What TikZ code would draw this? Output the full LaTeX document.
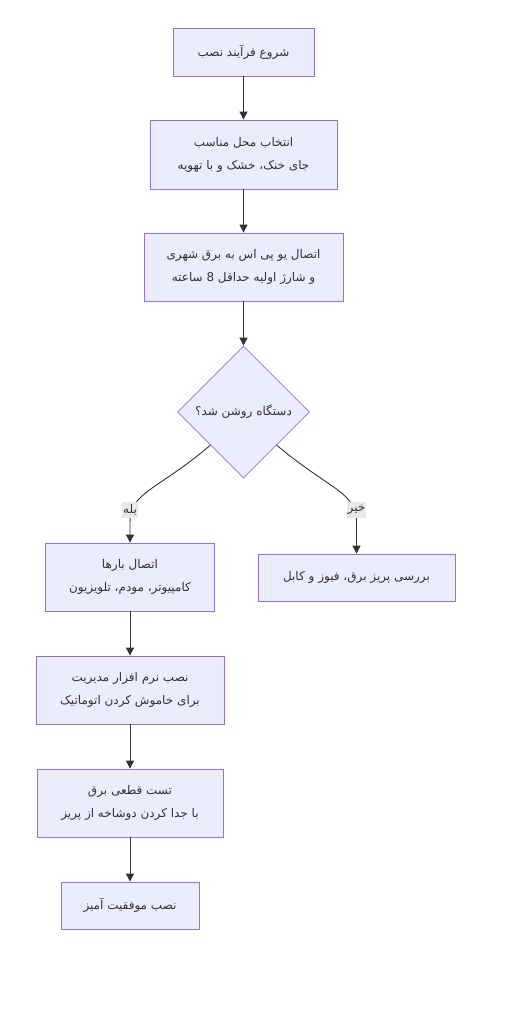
\documentclass[tikz,border=0pt]{standalone}
\usepackage{fontspec}
\newfontfamily\arabicfont[Script=Arabic]{DejaVu Sans}
\TeXXeTstate=1
\usetikzlibrary{shapes.geometric,arrows.meta}
\definecolor{nodefill}{HTML}{ECECFF}
\definecolor{nodeline}{HTML}{9370DB}
\definecolor{txt}{HTML}{333333}
\definecolor{lblbg}{HTML}{E8E8E8}
\newcommand{\rl}[1]{\beginR #1\endR}
\begin{document}
\begin{tikzpicture}[x=1pt,y=-1pt,
  box/.style={draw=nodeline, fill=nodefill, line width=0.8pt, align=center, text=txt,
    font=\arabicfont\fontsize{12}{23}\selectfont, inner sep=2pt},
  dia/.style={draw=nodeline, fill=nodefill, line width=0.8pt, diamond, aspect=1, text=txt,
    font=\arabicfont\fontsize{12}{23}\selectfont, minimum width=132pt, minimum height=132pt, inner sep=0pt},
  lbl/.style={fill=lblbg, text=txt, font=\arabicfont\fontsize{12}{14}\selectfont, inner xsep=1pt, inner ysep=3pt},
  arr/.style={draw=txt, line width=0.9pt, -{Triangle[length=8pt,width=8pt]}}]
\useasboundingbox (0,0) rectangle (509,1024);
\node[box, minimum width=141pt, minimum height=48pt] (n1) at (243.5,52) {\rl{شروع فرآیند نصب}};
\node[box, minimum width=187pt, minimum height=69pt] (n2) at (243.5,154.5) {\rl{انتخاب محل مناسب}\\\rl{جای خنک، خشک و با تهویه}};
\node[box, minimum width=199pt, minimum height=68pt] (n3) at (243.5,267) {\rl{اتصال یو پی اس به برق شهری}\\\rl{و شارژ اولیه حداقل 8 ساعته}};
\node[dia] (d) at (243.5,412) {\rl{دستگاه روشن شد؟}};
\node[box, minimum width=169pt, minimum height=68pt] (n6) at (130,577) {\rl{اتصال بارها}\\\rl{کامپیوتر، مودم، تلویزیون}};
\node[box, minimum width=197pt, minimum height=47pt] (n7) at (356.5,577.5) {\rl{بررسی پریز برق، فیوز و کابل}};
\node[box, minimum width=188pt, minimum height=68pt] (n8) at (130,690) {\rl{نصب نرم افزار مدیریت}\\\rl{برای خاموش کردن اتوماتیک}};
\node[box, minimum width=186pt, minimum height=68pt] (n9) at (130,803) {\rl{تست قطعی برق}\\\rl{با جدا کردن دوشاخه از پریز}};
\node[box, minimum width=138pt, minimum height=47pt] (n10) at (130,905.5) {\rl{نصب موفقیت آمیز}};
\draw[arr] (n1) -- (n2);
\draw[arr] (n2) -- (n3);
\draw[arr] (n3) -- (d);
\draw[arr] (d.-135) .. controls (158,490) and (130,492) .. (130,522) -- (n6.north);
\draw[arr] (d.-45) .. controls (330,490) and (356.5,492) .. (356.5,522) -- (n7.north);
\draw[arr] (n6) -- (n8);
\draw[arr] (n8) -- (n9);
\draw[arr] (n9) -- (n10);
\node[lbl] (yes) at (130,510) {\rl{بله}};
\node[lbl] (no) at (356.5,510) {\rl{خیر}};
\end{tikzpicture}
\end{document}
